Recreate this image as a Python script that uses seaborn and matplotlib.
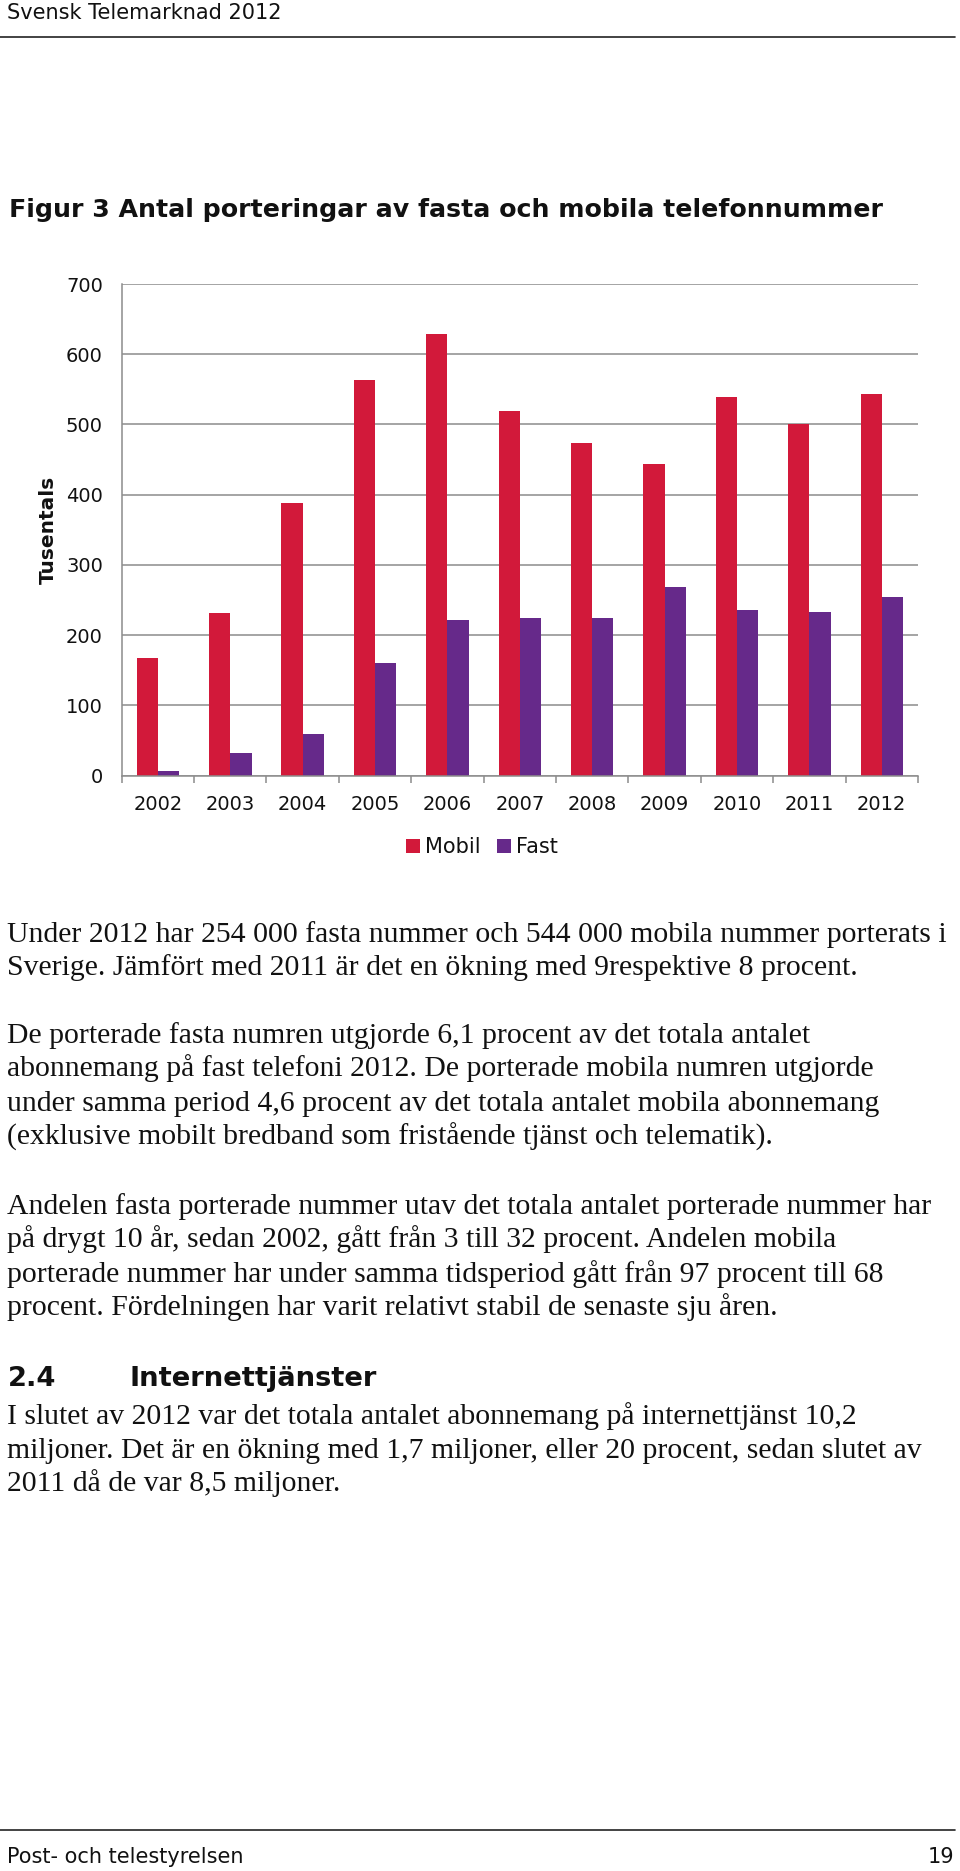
import matplotlib
matplotlib.use('Agg')
import matplotlib.pyplot as plt
import seaborn as sns
import pandas as pd
from matplotlib.lines import Line2D

W, H = 960, 1871

years = ['2002', '2003', '2004', '2005', '2006', '2007', '2008', '2009', '2010', '2011', '2012']
mobil = [168, 231, 388, 564, 629, 519, 474, 444, 539, 501, 544]
fast = [6, 33, 59, 161, 221, 225, 224, 268, 236, 233, 254]
series = ['Mobil', 'Fast']
yticks = [0, 100, 200, 300, 400, 500, 600, 700]

header = 'Svensk Telemarknad 2012'
title = 'Figur 3 Antal porteringar av fasta och mobila telefonnummer'
ylabel = 'Tusentals'
footer_left = 'Post- och telestyrelsen'
footer_right = '19'

body_lines = [
    'Under 2012 har 254 000 fasta nummer och 544 000 mobila nummer porterats i',
    'Sverige. Jämfört med 2011 är det en ökning med 9respektive 8 procent.',
    'De porterade fasta numren utgjorde 6,1 procent av det totala antalet',
    'abonnemang på fast telefoni 2012. De porterade mobila numren utgjorde',
    'under samma period 4,6 procent av det totala antalet mobila abonnemang',
    '(exklusive mobilt bredband som fristående tjänst och telematik).',
    'Andelen fasta porterade nummer utav det totala antalet porterade nummer har',
    'på drygt 10 år, sedan 2002, gått från 3 till 32 procent. Andelen mobila',
    'porterade nummer har under samma tidsperiod gått från 97 procent till 68',
    'procent. Fördelningen har varit relativt stabil de senaste sju åren.',
    'I slutet av 2012 var det totala antalet abonnemang på internettjänst 10,2',
    'miljoner. Det är en ökning med 1,7 miljoner, eller 20 procent, sedan slutet av',
    '2011 då de var 8,5 miljoner.',
]
body_baselines = [942, 975, 1043, 1076.5, 1111, 1144.5, 1213.5, 1247, 1281.5, 1315, 1424, 1458, 1491]

red = '#D2193A'
purple = '#66298A'
grid = '#8C8C8C'
ink = '#111111'

sns.set_theme(style='white')
plt.rcParams['font.family'] = ['DejaVu Sans']


def fy(px):
    return 1 - px / H


df = pd.DataFrame({'år': years * 2,
                   'antal': mobil + fast,
                   'typ': [series[0]] * len(years) + [series[1]] * len(years)})

fig = plt.figure(figsize=(W / 100, H / 100), dpi=100)
fig.patch.set_facecolor('white')

ax_left, ax_right, ax_top, ax_bot = 121.7, 918, 284, 775.7
ax = fig.add_axes([ax_left / W, fy(ax_bot), (ax_right - ax_left) / W, (ax_bot - ax_top) / H])

sns.barplot(data=df, x='år', y='antal', hue='typ', palette=[red, purple],
            width=0.587, gap=0, saturation=1, linewidth=0, ax=ax)

ax.set_ylim(0, 700)
ax.set_xlim(-0.5, len(years) - 0.5)
ax.set_yticks(yticks)
ax.set_yticklabels([str(v) for v in yticks])
ax.yaxis.grid(True, color=grid, linewidth=1.1)
ax.set_axisbelow(True)
for s in ['top', 'right']:
    ax.spines[s].set_visible(False)
for s in ['left', 'bottom']:
    ax.spines[s].set_color(grid)
    ax.spines[s].set_linewidth(1.1)

ax.tick_params(axis='y', length=5, width=1.1, color=grid, pad=8.5, labelsize=14, labelcolor=ink)
ax.tick_params(axis='x', which='major', length=0, pad=14, labelsize=14, labelcolor=ink)
ax.set_xticks([i - 0.5 for i in range(len(years) + 1)], minor=True)
ax.tick_params(axis='x', which='minor', length=5, width=1.1, color=grid, bottom=True)
ax.set_xlabel('')
ax.set_ylabel(ylabel, fontsize=14.5, fontweight='bold', color=ink, va='center')
ax.yaxis.set_label_coords((48 - ax_left) / (ax_right - ax_left), 0.5)

sns.move_legend(ax, 'center', bbox_to_anchor=((482 - ax_left) / (ax_right - ax_left),
                                                (ax_bot - 847) / (ax_bot - ax_top)),
                ncol=2, frameon=False, title=None, fontsize=15,
                handlelength=0.65, handleheight=0.65, handletextpad=0.25, columnspacing=0.8)
for t in ax.get_legend().get_texts():
    t.set_color(ink)

# header and footer
fig.text(7 / W, fy(19), header, fontsize=15, color=ink, va='baseline')
fig.add_artist(Line2D([0, 955 / W], [fy(36.6), fy(36.6)], color='#222222', linewidth=1.2))
fig.text(9 / W, fy(217), title, fontsize=18.2, fontweight='bold', color=ink, va='baseline')

fig.add_artist(Line2D([0, 955 / W], [fy(1830), fy(1830)], color='#222222', linewidth=1.2))
fig.text(7 / W, fy(1863), footer_left, fontsize=15, color=ink, va='baseline')
fig.text(954 / W, fy(1863), footer_right, fontsize=15, color=ink, va='baseline', ha='right')

# body text
for line, base in zip(body_lines, body_baselines):
    fig.text(7 / W, fy(base), line, fontsize=21.4, family='Liberation Serif', color=ink, va='baseline')

fig.text(8 / W, fy(1386), '2.4', fontsize=19.7, fontweight='bold', color=ink, va='baseline')
fig.text(130 / W, fy(1386), 'Internettjänster', fontsize=19.7, fontweight='bold', color=ink, va='baseline')

fig.savefig('out.png', dpi=100, facecolor='white')
